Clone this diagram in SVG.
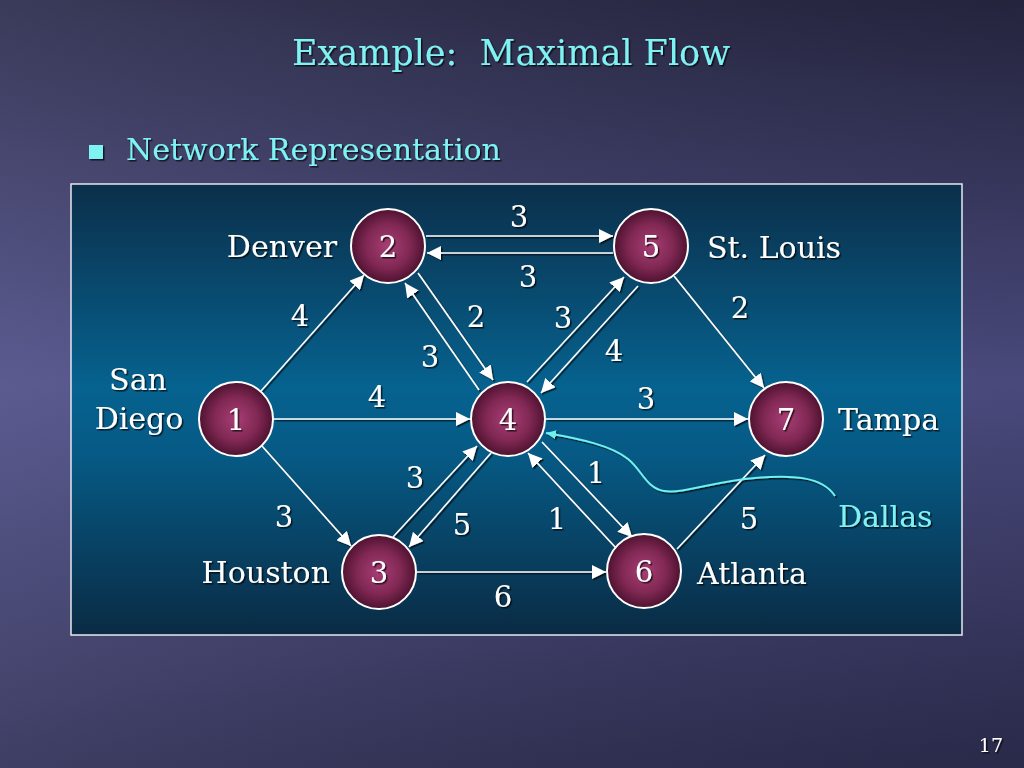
<svg xmlns="http://www.w3.org/2000/svg" width="1024" height="768" viewBox="0 0 1024 768">
<defs>
<linearGradient id="bg" x1="0" y1="0" x2="0" y2="1">
<stop offset="0" stop-color="#2a2a42"/>
<stop offset="0.5" stop-color="#56568c"/>
<stop offset="1" stop-color="#303050"/>
</linearGradient>
<linearGradient id="bgh" x1="0" y1="0" x2="1" y2="0">
<stop offset="0" stop-color="#6a6aa0" stop-opacity="0.25"/>
<stop offset="1" stop-color="#000020" stop-opacity="0.15"/>
</linearGradient>
<linearGradient id="panel" x1="0" y1="0" x2="0" y2="1">
<stop offset="0" stop-color="#0b2f4a"/>
<stop offset="0.45" stop-color="#06628f"/>
<stop offset="0.6" stop-color="#065a85"/>
<stop offset="1" stop-color="#0a2b44"/>
</linearGradient>
<radialGradient id="node" cx="0.5" cy="0.5" r="0.5">
<stop offset="0" stop-color="#a83e76"/>
<stop offset="0.6" stop-color="#802853"/>
<stop offset="1" stop-color="#4e1230"/>
</radialGradient>
<filter id="sh" x="-20%" y="-20%" width="140%" height="140%">
<feDropShadow dx="1.5" dy="1.5" stdDeviation="0.6" flood-color="#000" flood-opacity="0.7"/>
</filter>
<marker id="ah" markerUnits="userSpaceOnUse" markerWidth="15" markerHeight="14" refX="14" refY="7" orient="auto">
<path d="M0,0 L14,7 L0,14 z" fill="#fff"/>
</marker>
<marker id="ahc" markerUnits="userSpaceOnUse" markerWidth="11" markerHeight="10" refX="10" refY="4.5" orient="auto">
<path d="M0,0 L10,4.5 L0,9 z" fill="#6ff0f0"/>
</marker>
<style>
.t{font-family:"DejaVu Serif","Liberation Serif",serif;fill:#fff;}
.c{fill:#7ff3f3;}
.lbl{font-size:29px;text-anchor:middle;}
.num{font-size:29px;text-anchor:middle;}
.city{font-size:30px;}
.n{fill:url(#node);stroke:#fff;stroke-width:2;}
.e{stroke:#fff;stroke-width:1.6;fill:none;marker-end:url(#ah);}
</style>
</defs>
<rect width="1024" height="768" fill="url(#bg)"/>
<rect width="1024" height="768" fill="url(#bgh)"/>
<g filter="url(#sh)">
<text class="t c" x="511" y="65" font-size="35" text-anchor="middle" xml:space="preserve" style="white-space:pre">Example:  Maximal Flow</text>
<rect x="89" y="145" width="14" height="14" fill="#7ff3f3"/>
<text class="t c" x="126" y="160" font-size="30">Network Representation</text>
</g>
<rect x="71" y="184" width="891" height="451" fill="url(#panel)" stroke="#e8e8f0" stroke-width="1.5"/>
<g id="connectors" filter="url(#sh)">
<line class="e" x1="261" y1="391" x2="364" y2="275"/>
<line class="e" x1="274" y1="419" x2="470" y2="419"/>
<line class="e" x1="262" y1="446" x2="351" y2="546"/>
<line class="e" x1="426" y1="236" x2="613" y2="236"/>
<line class="e" x1="613" y1="253" x2="427" y2="253"/>
<line class="e" x1="418" y1="273" x2="493" y2="380"/>
<line class="e" x1="479" y1="390" x2="405" y2="283"/>
<line class="e" x1="527" y1="382" x2="624" y2="277"/>
<line class="e" x1="638" y1="286" x2="541" y2="393"/>
<line class="e" x1="546" y1="419" x2="748" y2="419"/>
<line class="e" x1="674" y1="276" x2="764" y2="388"/>
<line class="e" x1="393" y1="537" x2="477" y2="446"/>
<line class="e" x1="491" y1="453" x2="409" y2="547"/>
<line class="e" x1="542" y1="442" x2="632" y2="537"/>
<line class="e" x1="616" y1="548" x2="528" y2="453"/>
<line class="e" x1="417" y1="572" x2="606" y2="572"/>
<line class="e" x1="677" y1="549" x2="765" y2="455"/>
<path d="M835,496 C822,476 792,475 755,478 C715,481 684,494 664,491 C646,488 642,470 628,459 C612,446 582,439 546,433" stroke="#6ff0f0" stroke-width="2" fill="none" marker-end="url(#ahc)"/>
</g>
<g id="node1"><circle class="n" cx="236" cy="419" r="37"/><text class="t num" x="236" y="430" filter="url(#sh)">1</text></g>
<g id="node2"><circle class="n" cx="388" cy="246" r="37"/><text class="t num" x="388" y="257" filter="url(#sh)">2</text></g>
<g id="node3"><circle class="n" cx="379" cy="572" r="37"/><text class="t num" x="379" y="583" filter="url(#sh)">3</text></g>
<g id="node4"><circle class="n" cx="508" cy="419" r="37"/><text class="t num" x="508" y="430" filter="url(#sh)">4</text></g>
<g id="node5"><circle class="n" cx="651" cy="246" r="37"/><text class="t num" x="651" y="257" filter="url(#sh)">5</text></g>
<g id="node6"><circle class="n" cx="644" cy="571" r="37"/><text class="t num" x="644" y="582" filter="url(#sh)">6</text></g>
<g id="node7"><circle class="n" cx="786" cy="419" r="37"/><text class="t num" x="786" y="430" filter="url(#sh)">7</text></g>
<g id="labels" filter="url(#sh)">
<text class="t city" x="337" y="257" text-anchor="end">Denver</text>
<text class="t city" x="707" y="258">St. Louis</text>
<text class="t city" x="138" y="390" text-anchor="middle">San</text>
<text class="t city" x="139" y="429" text-anchor="middle">Diego</text>
<text class="t city" x="838" y="430">Tampa</text>
<text class="t city" x="330" y="583" text-anchor="end">Houston</text>
<text class="t city" x="697" y="584">Atlanta</text>
<text class="t city c" x="838" y="527">Dallas</text>
<text class="t lbl" x="519" y="227">3</text>
<text class="t lbl" x="528" y="287">3</text>
<text class="t lbl" x="300" y="326">4</text>
<text class="t lbl" x="476" y="327">2</text>
<text class="t lbl" x="563" y="328">3</text>
<text class="t lbl" x="430" y="367">3</text>
<text class="t lbl" x="614" y="361">4</text>
<text class="t lbl" x="740" y="318">2</text>
<text class="t lbl" x="377" y="407">4</text>
<text class="t lbl" x="646" y="409">3</text>
<text class="t lbl" x="415" y="488">3</text>
<text class="t lbl" x="596" y="483">1</text>
<text class="t lbl" x="284" y="527">3</text>
<text class="t lbl" x="462" y="535">5</text>
<text class="t lbl" x="557" y="529">1</text>
<text class="t lbl" x="749" y="529">5</text>
<text class="t lbl" x="503" y="607">6</text>
<text class="t" x="1003" y="752" font-size="19" text-anchor="end">17</text>
</g>
</svg>
